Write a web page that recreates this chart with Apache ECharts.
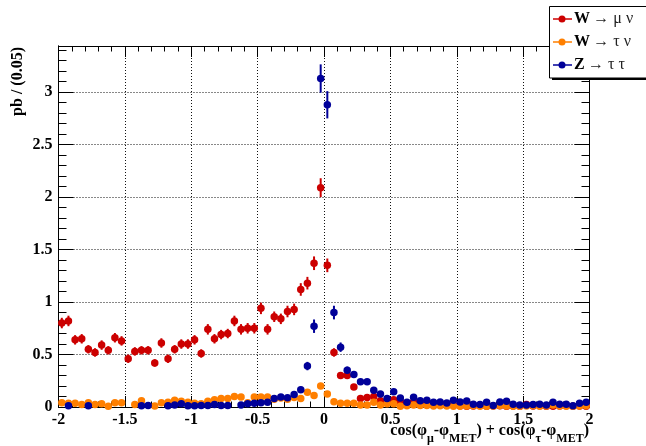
<!DOCTYPE html>
<html>
<head>
<meta charset="utf-8">
<script src="https://cdn.jsdelivr.net/npm/echarts@6/dist/echarts.min.js"></script>
<style>
html,body{margin:0;padding:0;background:#fff}
#main{width:646px;height:446px}
</style>
</head>
<body>
<div id="main"></div>
<script>
// histogram binning: 80 bins of 0.05 from -2 to 2
const binLow = -2;
const binWidth = 0.05;

// W -> mu nu (pb / 0.05)
const wmunu = [
  0.80,0.82,0.64,0.65,0.55,0.52,0.59,0.54,0.66,0.63,
  0.46,0.53,0.54,0.54,0.42,0.61,0.46,0.55,0.60,0.60,
  0.64,0.51,0.74,0.65,0.69,0.70,0.82,0.74,0.75,0.75,
  0.94,0.74,0.86,0.84,0.91,0.93,1.12,1.18,1.37,2.09,
  1.35,0.52,0.30,0.30,0.19,0.08,0.09,0.10,0.06,0.04,
  0.07,0.05,0.03,0.05,0.03,0.03,0.02,0.03,0.02,0.02,
  0.012,0.006,0.01,0.015,0.008,0.01,0.012,0.006,0.01,0.008,
  0.025,0.01,0.012,0.008,0.006,0.01,0.012,0.008,0.01,0.006
];
const wmunuErr = [
  0.05,0.05,0.045,0.045,0.04,0.04,0.045,0.04,0.045,0.045,
  0.04,0.04,0.04,0.04,0.035,0.045,0.04,0.04,0.045,0.045,
  0.045,0.04,0.05,0.045,0.045,0.045,0.05,0.05,0.05,0.05,
  0.055,0.05,0.05,0.05,0.055,0.055,0.06,0.06,0.065,0.09,
  0.065,0.04,0.03,0.03,0.025,0.015,0.015,0.018,0.014,0.012,
  0.014,0.012,0.01,0.012,0.01,0.01,0.008,0.01,0.008,0.008,
  0.006,0.005,0.006,0.007,0.005,0.006,0.006,0.005,0.006,0.005,
  0.008,0.006,0.006,0.005,0.005,0.006,0.006,0.005,0.006,0.005
];

// W -> tau nu
const wtaunu = [
  0.04,0.035,0.035,0.025,0.04,0.025,0.03,0.008,0.04,0.04,
  null,0.025,0.06,null,0.01,0.04,0.045,0.065,0.055,0.045,
  0.035,0.03,0.055,0.07,0.08,0.08,0.10,0.095,0.04,0.095,
  0.095,0.095,0.075,0.085,0.075,0.09,0.08,0.14,0.11,0.20,
  0.125,0.05,0.035,0.035,0.035,0.02,0.02,0.045,0.02,0.03,
  0.03,0.008,0.012,0.02,0.015,0.015,0.01,0.012,0.01,0.006,
  0.008,0.01,0.012,0.006,0.008,0.01,0.014,0.01,0.008,0.006,
  0.01,0.012,0.008,0.01,0.02,0.01,0.008,0.006,0.01,0.012
];
const wtaunuErr = [
  0.01,0.01,0.01,0.01,0.01,0.01,0.01,0.005,0.01,0.01,
  0,0.01,0.012,0,0.006,0.01,0.01,0.012,0.012,0.01,
  0.01,0.01,0.012,0.012,0.014,0.014,0.015,0.015,0.01,0.015,
  0.015,0.015,0.014,0.014,0.014,0.015,0.014,0.02,0.018,0.025,
  0.018,0.012,0.01,0.01,0.01,0.008,0.008,0.01,0.008,0.008,
  0.008,0.005,0.006,0.008,0.006,0.006,0.005,0.006,0.005,0.004,
  0.005,0.005,0.006,0.004,0.005,0.005,0.006,0.005,0.005,0.004,
  0.005,0.006,0.005,0.005,0.008,0.005,0.005,0.004,0.005,0.006
];

// Z -> tau tau
const ztautau = [
  null,0.012,null,null,0.012,null,null,null,null,null,
  null,null,0.012,0.015,null,null,0.012,0.02,0.03,0.012,
  0.013,0.015,0.015,0.025,0.015,0.015,null,0.02,0.03,0.035,
  0.04,0.045,0.08,0.095,0.087,0.12,0.165,0.39,0.77,3.13,
  2.88,0.90,0.57,0.35,0.31,0.24,0.24,0.16,0.123,0.082,
  0.145,0.085,0.045,0.093,0.06,0.065,0.045,0.047,0.037,0.065,
  0.047,0.058,0.027,0.025,0.045,0.015,0.048,0.054,0.027,0.02,
  0.018,0.025,0.027,0.02,0.045,0.027,0.027,0.013,0.035,0.045
];
const ztautauErr = [
  0,0.008,0,0,0.008,0,0,0,0,0,
  0,0,0.008,0.008,0,0,0.008,0.01,0.01,0.008,
  0.008,0.008,0.008,0.01,0.008,0.008,0,0.01,0.01,0.012,
  0.012,0.012,0.02,0.02,0.02,0.025,0.03,0.04,0.064,0.135,
  0.13,0.065,0.045,0.035,0.032,0.028,0.028,0.022,0.02,0.016,
  0.02,0.016,0.012,0.016,0.012,0.012,0.012,0.012,0.01,0.012,
  0.012,0.012,0.01,0.01,0.012,0.008,0.012,0.012,0.01,0.008,
  0.008,0.01,0.01,0.008,0.012,0.01,0.01,0.008,0.01,0.012
];

const legendNames = ['W', 'W', 'Z'];
const legendDecays = ['\u2192 \u03bc \u03bd', '\u2192 \u03c4 \u03bd', '\u2192 \u03c4 \u03c4'];
const colors = ['#cc0000', '#ff7f00', '#000099'];

const FONT = 'Liberation Serif, Times New Roman, serif';

function binCenter(i) { return binLow + binWidth * (i + 0.5); }

function points(vals) {
  var out = [];
  vals.forEach(function (v, i) { if (v != null) out.push([binCenter(i), v]); });
  return out;
}
function bars(vals, errs) {
  var out = [];
  vals.forEach(function (v, i) {
    if (v != null && errs[i] > 0) out.push([binCenter(i), v - errs[i], v + errs[i]]);
  });
  return out;
}

function errSeries(vals, errs, color) {
  return {
    type: 'custom',
    xAxisIndex: 0, yAxisIndex: 0,
    data: bars(vals, errs),
    encode: { x: 0, y: [1, 2] },
    renderItem: function (params, api) {
      var x = api.value(0);
      var p1 = api.coord([x, Math.max(0, api.value(1))]);
      var p2 = api.coord([x, api.value(2)]);
      return {
        type: 'line',
        shape: { x1: p1[0], y1: p1[1], x2: p2[0], y2: p2[1] },
        style: { stroke: color, lineWidth: 2 }
      };
    }
  };
}
function dotSeries(vals, color) {
  return {
    type: 'scatter',
    xAxisIndex: 0, yAxisIndex: 0,
    data: points(vals),
    symbol: 'circle',
    symbolSize: 7.5,
    itemStyle: { color: color, opacity: 1 }
  };
}

var chart = echarts.init(document.getElementById('main'), null, { renderer: 'canvas' });

var black = { color: '#000', width: 1 };
var yMax = 3.44;

function xAxisDef(pos, labels) {
  return {
    type: 'value', position: pos, min: -2, max: 2, interval: 0.5,
    axisLine: { show: true, onZero: false, lineStyle: black },
    axisTick: { show: true, inside: true, length: 11, lineStyle: black },
    minorTick: { show: true, splitNumber: 5, length: 5.5, lineStyle: black },
    axisLabel: {
      show: labels, margin: 5, color: '#000',
      fontFamily: FONT, fontWeight: 'bold', fontSize: 16
    },
    splitLine: {
      show: labels,
      lineStyle: { color: '#111', width: 1, type: [1, 2] }
    }
  };
}
function yAxisDef(pos, interval, len, labels, grid) {
  return {
    type: 'value', position: pos, min: 0, max: yMax, interval: interval,
    axisLine: { show: true, onZero: false, lineStyle: black },
    axisTick: { show: true, inside: true, length: len, lineStyle: black },
    axisLabel: {
      show: labels, margin: 6, color: '#000', showMaxLabel: false,
      fontFamily: FONT, fontWeight: 'bold', fontSize: 16
    },
    splitLine: {
      show: grid,
      lineStyle: { color: '#111', width: 1, type: [1, 2] }
    }
  };
}

function legendEntry(k) {
  var y = 19 + 23 * k;
  return [
    { type: 'line', z: 101, shape: { x1: 553, y1: y, x2: 572, y2: y },
      style: { stroke: colors[k], lineWidth: 1.5 } },
    { type: 'circle', z: 102, shape: { cx: 562, cy: y, r: 3.5 },
      style: { fill: colors[k] } },
    { type: 'text', z: 102, x: 574, y: y,
      style: {
        text: '{b|' + legendNames[k] + '} {a|' + legendDecays[k] + '}',
        textVerticalAlign: 'middle',
        rich: {
          b: { fontFamily: FONT, fontWeight: 'bold', fontSize: 16, fill: '#000' },
          a: { fontFamily: FONT, fontSize: 16, fill: '#222' }
        }
      } }
  ];
}

var option = {
  animation: false,
  backgroundColor: '#fff',
  grid: { left: 58.5, right: 56.5, top: 46, bottom: 39 },
  xAxis: [xAxisDef('bottom', true), xAxisDef('top', false)],
  yAxis: [
    yAxisDef('left', 0.5, 15, true, true),
    yAxisDef('left', 0.1, 8, false, false),
    yAxisDef('right', 0.5, 15, false, false),
    yAxisDef('right', 0.1, 8, false, false)
  ],
  series: [
    errSeries(wmunu, wmunuErr, colors[0]),
    dotSeries(wmunu, colors[0]),
    errSeries(wtaunu, wtaunuErr, colors[1]),
    dotSeries(wtaunu, colors[1]),
    errSeries(ztautau, ztautauErr, colors[2]),
    dotSeries(ztautau, colors[2])
  ],
  graphic: [
    // y axis title
    { type: 'text', x: 18, y: 47, rotation: Math.PI / 2,
      style: {
        text: 'pb / (0.05)', textAlign: 'right', textVerticalAlign: 'middle',
        font: 'bold 16px ' + FONT, fill: '#000'
      } },
    // x axis title with subscripts
    { type: 'text', x: 589, y: 423,
      style: {
        text: '{n|cos(\u03c6}{s|\u03bc}{n|-\u03c6}{s|MET}{n|) + cos(\u03c6}{s|\u03c4}{n|-\u03c6}{s|MET}{n|)}',
        textAlign: 'right', textVerticalAlign: 'top',
        rich: {
          n: { fontFamily: FONT, fontWeight: 'bold', fontSize: 16, lineHeight: 18, verticalAlign: 'top', fill: '#000' },
          s: { fontFamily: FONT, fontWeight: 'bold', fontSize: 12, lineHeight: 12, padding: [10, 0, 0, 0], verticalAlign: 'top', fill: '#000' }
        }
      } },
    // legend box with shadow
    { type: 'rect', z: 99, shape: { x: 552, y: 10, width: 100, height: 70 },
      style: { fill: '#000' } },
    { type: 'rect', z: 100, shape: { x: 549.5, y: 6.5, width: 100, height: 71.5 },
      style: { fill: '#fff', stroke: '#000', lineWidth: 1 } }
  ].concat(legendEntry(0), legendEntry(1), legendEntry(2))
};

chart.setOption(option);
</script>
</body>
</html>
